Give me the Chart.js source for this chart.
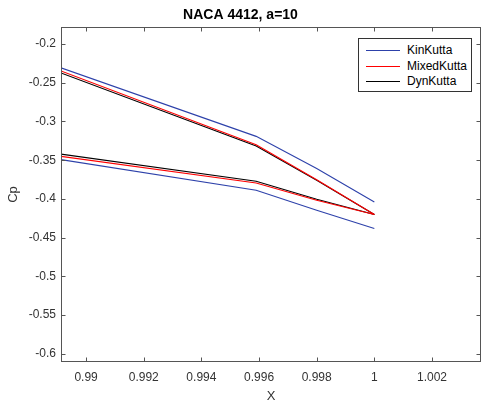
<!DOCTYPE html>
<html><head><meta charset="utf-8">
<script src="https://cdn.jsdelivr.net/npm/chart.js@4"></script>
<style>
html,body{margin:0;padding:0;background:#fff;}
#wrap{position:relative;width:483px;height:401px;}
#legend{position:absolute;left:358px;top:38px;width:114px;height:54px;border:1px solid #333;background:#fff;box-sizing:border-box;font:12px 'Liberation Sans',Arial,sans-serif;color:#000;}
.row{position:absolute;left:0;height:16px;width:100%;}
.sw{position:absolute;left:7px;top:8px;width:34px;height:1px;}
.lbl{position:absolute;left:48px;top:0;white-space:nowrap;line-height:16px;}
</style></head>
<body><div id="wrap"><canvas id="c" width="483" height="401"></canvas><div id="legend"></div></div>
<script>
const seriesNames = ['KinKutta', 'MixedKutta', 'DynKutta'];
const seriesColors = ['rgb(45,65,170)', 'rgb(255,0,0)', 'rgb(0,0,0)'];
const xPts = [0.98913, 0.9959, 0.998, 1.0];
const kinUpper = [-0.2307, -0.3192, -0.3608, -0.4039];
const kinLower = [-0.3492, -0.3888, -0.4146, -0.4381];
const mixedUpper = [-0.2348, -0.3299, -0.3753, -0.4201];
const mixedLower = [-0.3450, -0.3794, -0.4017, -0.4201];
const dynUpper = [-0.2374, -0.3317, -0.3759, -0.4201];
const dynLower = [-0.3421, -0.3772, -0.4004, -0.4201];
const xTicks = [0.99, 0.992, 0.994, 0.996, 0.998, 1, 1.002];
const xTickLabels = ['0.99', '0.992', '0.994', '0.996', '0.998', '1', '1.002'];
const yTicks = [-0.6, -0.55, -0.5, -0.45, -0.4, -0.35, -0.3, -0.25, -0.2];
const yTickLabels = ['-0.6', '-0.55', '-0.5', '-0.45', '-0.4', '-0.35', '-0.3', '-0.25', '-0.2'];

const FONT = "'Liberation Sans', Arial, sans-serif";
const pts = ys => xPts.map((x, i) => ({x: x, y: ys[i]}));
const groups = [[kinUpper, kinLower], [mixedUpper, mixedLower], [dynUpper, dynLower]];
const datasets = [];
groups.forEach((g, si) => {
  g.forEach(ys => datasets.push({
    label: seriesNames[si], data: pts(ys), borderColor: seriesColors[si],
    borderWidth: 1.1, pointRadius: 0, showLine: true, fill: false, tension: 0
  }));
});

const boxPlugin = {
  id: 'box',
  afterDraw(chart) {
    const ctx = chart.ctx, a = chart.chartArea;
    const xs = chart.scales.x, ys = chart.scales.y;
    ctx.save();
    ctx.strokeStyle = '#555';
    ctx.lineWidth = 1;
    const L = Math.round(a.left) + 0.5, R = Math.round(a.right) - 0.5;
    const T = Math.round(a.top) + 0.5, B = Math.round(a.bottom) - 0.5;
    ctx.strokeRect(L, T, R - L, B - T);
    ctx.beginPath();
    xTicks.forEach(v => {
      const p = Math.round(xs.getPixelForValue(v)) + 0.5;
      ctx.moveTo(p, B); ctx.lineTo(p, B - 4);
      ctx.moveTo(p, T); ctx.lineTo(p, T + 4);
    });
    yTicks.forEach(v => {
      const p = Math.round(ys.getPixelForValue(v)) + 0.5;
      ctx.moveTo(L, p); ctx.lineTo(L + 4, p);
      ctx.moveTo(R, p); ctx.lineTo(R - 4, p);
    });
    ctx.stroke();
    ctx.restore();
  }
};

new Chart(document.getElementById('c'), {
  type: 'scatter',
  data: {datasets: datasets},
  options: {
    responsive: false, animation: false,
    layout: {padding: {left: 0, right: 2, top: 0, bottom: 0}},
    plugins: {
      legend: {display: false}, tooltip: {enabled: false},
      title: {display: true, text: 'NACA 4412, a=10', color: '#000',
        font: {family: FONT, size: 14, weight: 'bold'}, padding: {top: 6.6, bottom: 3.6}}
    },
    scales: {
      x: {
        type: 'linear', min: 0.98913, max: 1.0037,
        grid: {display: false, drawTicks: false}, border: {display: false},
        afterBuildTicks: s => { s.ticks = xTicks.map(v => ({value: v})); },
        afterFit: s => { s.height = 39; },
        ticks: {autoSkip: false, maxRotation: 0, color: '#333', padding: 8,
          font: {family: FONT, size: 12}, callback: (v, i) => xTickLabels[i]},
        title: {display: true, text: 'X', color: '#333', font: {family: FONT, size: 13, lineHeight: 1.0}, padding: {top: 0, bottom: -1.5}}
      },
      y: {
        type: 'linear', min: -0.6105, max: -0.178,
        grid: {display: false, drawTicks: false}, border: {display: false},
        afterBuildTicks: s => { s.ticks = yTicks.map(v => ({value: v})); },
        afterFit: s => { s.width = 61; },
        ticks: {autoSkip: false, color: '#333', padding: 5,
          font: {family: FONT, size: 12}, callback: (v, i) => yTickLabels[i]},
        title: {display: true, text: 'Cp', color: '#333', font: {family: FONT, size: 13}, padding: {top: 6, bottom: 0}}
      }
    }
  },
  plugins: [boxPlugin]
});

const leg = document.getElementById('legend');
seriesNames.forEach((n, i) => {
  const row = document.createElement('div');
  row.className = 'row';
  row.style.top = (3 + i * 15.5) + 'px';
  row.innerHTML = '<div class="sw" style="background:' + seriesColors[i] + '"></div><div class="lbl">' + n + '</div>';
  leg.appendChild(row);
});
</script>
</body></html>
